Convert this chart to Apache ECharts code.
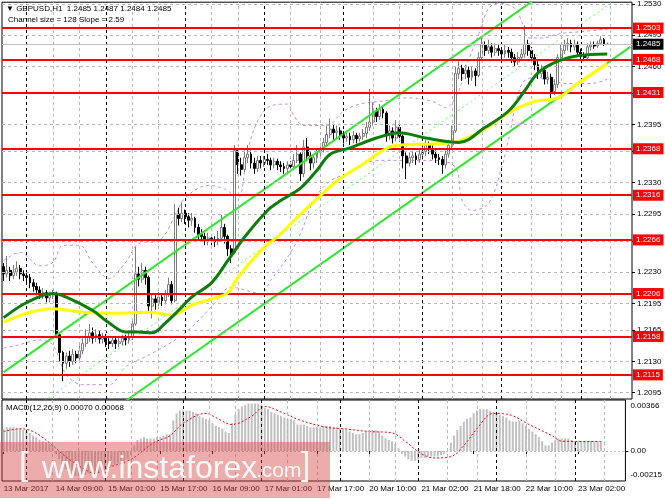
<!DOCTYPE html>
<html>
<head>
<meta charset="utf-8">
<script src="https://cdn.jsdelivr.net/npm/echarts@6/dist/echarts.min.js"></script>
<style>
html, body { margin: 0; padding: 0; background: #fff; }
#chart { width: 665px; height: 499px; }
</style>
</head>
<body>
<div id="chart"></div>
<script>
// GBPUSD H1 bars, prices in points above 1.0000 (2228 = 1.2228)
var firstOpenPt = 2236;
var closePts = [
  2228,2232,2226,2230,2234,2228,2226,2224,2218,2214,
  2210,2205,2207,2201,2204,2206,2160,2140,2128,2136,
  2130,2138,2134,2142,2150,2158,2162,2156,2160,2155,
  2158,2152,2150,2154,2150,2152,2156,2154,2158,2172,
  2228,2222,2232,2224,2192,2200,2196,2202,2198,2206,
  2216,2198,2295,2290,2296,2292,2288,2290,2280,2272,
  2270,2265,2268,2266,2264,2268,2280,2270,2256,2252,
  2366,2350,2345,2358,2362,2352,2346,2355,2352,2356,
  2355,2350,2354,2350,2348,2346,2350,2348,2355,2362,
  2340,2370,2360,2352,2358,2364,2368,2375,2384,2390,
  2386,2388,2384,2380,2382,2378,2383,2379,2382,2385,
  2392,2398,2410,2404,2412,2408,2384,2388,2380,2392,
  2382,2360,2352,2358,2360,2356,2362,2365,2372,2368,
  2362,2358,2356,2350,2362,2372,2388,2452,2458,2452,
  2456,2448,2455,2450,2470,2484,2478,2482,2476,2480,
  2478,2474,2478,2476,2470,2465,2470,2474,2485,2478,
  2470,2462,2452,2456,2446,2448,2432,2440,2470,2478,
  2484,2486,2482,2485,2476,2472,2470,2482,2484,2483,
  2486,2490,2485,2485
];
var highPts = [
  2240,2248,2236,2238,2242,2238,2232,2230,2228,2222,
  2218,2214,2212,2210,2208,2210,2208,2162,2142,2140,
  2142,2144,2142,2148,2156,2166,2172,2168,2166,2164,
  2162,2161,2156,2158,2157,2158,2160,2160,2162,2176,
  2258,2236,2240,2236,2226,2206,2204,2208,2206,2210,
  2224,2220,2306,2302,2308,2300,2296,2296,2292,2284,
  2278,2274,2274,2272,2270,2276,2294,2284,2272,2260,
  2372,2368,2358,2366,2372,2366,2358,2360,2360,2360,
  2362,2358,2358,2357,2354,2352,2354,2354,2362,2372,
  2364,2378,2380,2364,2362,2368,2374,2380,2394,2402,
  2396,2394,2392,2388,2388,2386,2388,2386,2386,2390,
  2398,2435,2420,2414,2418,2416,2410,2394,2392,2400,
  2396,2384,2364,2364,2366,2364,2368,2370,2378,2376,
  2372,2366,2362,2360,2366,2378,2394,2460,2466,2462,
  2462,2460,2460,2458,2476,2492,2488,2490,2486,2486,
  2484,2482,2484,2482,2480,2474,2476,2480,2506,2490,
  2482,2474,2466,2462,2460,2454,2452,2446,2474,2484,
  2490,2492,2490,2490,2488,2480,2476,2486,2488,2488,
  2489,2494,2492,2487
];
var lowPts = [
  2220,2224,2220,2222,2226,2222,2220,2218,2212,2208,
  2204,2200,2200,2196,2196,2200,2156,2130,2108,2122,
  2124,2126,2128,2130,2138,2146,2152,2150,2152,2150,
  2150,2146,2144,2146,2144,2146,2148,2148,2150,2154,
  2170,2214,2218,2216,2186,2178,2188,2192,2192,2194,
  2202,2194,2196,2282,2286,2284,2280,2282,2274,2266,
  2264,2260,2260,2260,2258,2260,2264,2262,2248,2240,
  2250,2340,2338,2342,2352,2346,2340,2342,2346,2348,
  2350,2344,2346,2344,2342,2340,2342,2343,2345,2352,
  2332,2336,2354,2344,2346,2352,2360,2364,2372,2380,
  2378,2380,2378,2374,2376,2372,2374,2374,2376,2378,
  2380,2388,2394,2398,2400,2402,2376,2378,2374,2376,
  2376,2346,2334,2348,2352,2350,2352,2356,2360,2362,
  2356,2352,2350,2340,2346,2358,2368,2386,2446,2444,
  2446,2440,2444,2438,2448,2466,2472,2474,2470,2472,
  2472,2468,2470,2470,2464,2460,2462,2466,2470,2472,
  2464,2456,2446,2448,2440,2440,2424,2428,2436,2466,
  2474,2478,2476,2478,2472,2468,2466,2468,2478,2480,
  2481,2484,2483,2484
];

var barCount = 191; // bars plus the empty space before the price scale

var tickBars = [0, 16, 32, 48, 64, 80, 96, 112, 128, 144, 160, 176];
var tickLabels = ['13 Mar 2017', '14 Mar 09:00', '15 Mar 01:00', '15 Mar 17:00',
  '16 Mar 09:00', '17 Mar 01:00', '17 Mar 17:00', '20 Mar 10:00',
  '21 Mar 02:00', '21 Mar 18:00', '22 Mar 10:00', '23 Mar 02:00'];

var priceTicks = [1.2530, 1.2495, 1.2460, 1.2430, 1.2395, 1.2365, 1.2330,
  1.2295, 1.2265, 1.2230, 1.2195, 1.2165, 1.2130, 1.2095];
var levels = [1.2503, 1.2468, 1.2431, 1.2368, 1.2316, 1.2266, 1.2206, 1.2158, 1.2115];
var bidPrice = 1.2485;

var gridBars = [15, 23, 39, 47, 63, 71, 87, 96, 112, 120, 136, 145, 160, 169, 184];
var daySepBars = [7, 31, 55, 79, 103, 127, 151, 175];

// moving averages and envelope read at sample bars
var maGreen = [[0,1.2179],[7,1.2196],[15,1.2206],[19,1.2202],[27,1.2187],[32,1.2173],
  [37,1.2163],[41,1.2163],[45,1.2162],[49,1.2173],[53,1.2187],[57,1.2202],[63,1.2218],
  [68,1.2243],[73,1.2269],[80,1.2299],[84,1.2310],[90,1.2324],[95,1.2344],[99,1.2362],
  [105,1.2369],[113,1.2380],[120,1.2386],[128,1.2380],[138,1.2375],[146,1.2392],
  [153,1.2410],[158,1.2433],[162,1.2453],[168,1.2466],[174,1.2472],[183,1.2474]];
var maYellow = [[0,1.2174],[7,1.2184],[15,1.2189],[24,1.2185],[34,1.2184],[44,1.2185],
  [51,1.2182],[57,1.2193],[64,1.2201],[68,1.2207],[71,1.2224],[78,1.2254],[84,1.2273],
  [90,1.2295],[95,1.2312],[101,1.2332],[109,1.2351],[118,1.2371],[126,1.2373],
  [136,1.2375],[145,1.2388],[153,1.2408],[161,1.2421],[168,1.2425],[174,1.2441],[183,1.2463]];
var bandUpper = [[0,1.2243],[5,1.2252],[11,1.2237],[15,1.2241],[18,1.2260],[23,1.2260],
  [27,1.2240],[32,1.2223],[37,1.2241],[41,1.2262],[47,1.2265],[52,1.2293],[55,1.2313],
  [62,1.2327],[67,1.2323],[71,1.2313],[74,1.2366],[77,1.2399],[81,1.2416],[86,1.2418],
  [88,1.2405],[91,1.2394],[98,1.2394],[103,1.2410],[108,1.2418],[114,1.2421],[123,1.2425],
  [130,1.2421],[134,1.2414],[138,1.2433],[140,1.2458],[144,1.2496],[147,1.2525],
  [150,1.2531],[155,1.2525],[157,1.2511],[159,1.2492],[163,1.2492],[169,1.2497],
  [175,1.2499],[183,1.2502]];
var bandLower = [[0,1.2145],[4,1.2148],[11,1.2154],[15,1.2148],[19,1.2115],[24,1.2104],
  [32,1.2104],[37,1.2124],[45,1.2139],[55,1.2162],[63,1.2191],[69,1.2213],[78,1.2206],
  [81,1.2221],[86,1.2246],[90,1.2273],[94,1.2310],[99,1.2332],[105,1.2341],[113,1.2355],
  [131,1.2355],[137,1.2347],[139,1.2310],[142,1.2299],[147,1.2307],[151,1.2347],
  [153,1.2377],[157,1.2440],[161,1.2448],[171,1.2441],[178,1.2441],[183,1.2446]];

// regression channel (size 128, slope 2.59)
var channelUpper = [[0, 1.2118], [190, 1.2610]];
var channelMid = [[0, 1.2054], [190, 1.2546]];
var channelLower = [[0, 1.1990], [190, 1.2482]];

// MACD(12,26,9)
var macdHist = [
  0.0016,0.0017,0.0017,0.0017,0.0016,0.0016,0.0015,0.0014,0.0013,0.0011,
  0.0010,0.0008,0.0007,0.0006,0.0005,0.0004,-0.0002,-0.0006,-0.0010,-0.0013,
  -0.0016,-0.0018,-0.0018,-0.0018,-0.0018,-0.0017,-0.0016,-0.0016,-0.0015,-0.0015,
  -0.0014,-0.0013,-0.0012,-0.0011,-0.0010,-0.0009,-0.0008,-0.0007,-0.0006,-0.0003,
  0.0004,0.0008,0.0009,0.0010,0.0009,0.0009,0.0009,0.0010,0.0010,0.0011,
  0.0012,0.0012,0.0022,0.0027,0.0029,0.0029,0.0029,0.0029,0.0028,0.0027,
  0.0025,0.0024,0.0023,0.0022,0.0020,0.0018,0.0017,0.0016,0.0014,0.0013,
  0.0020,0.0026,0.0030,0.0032,0.0033,0.0034,0.0034,0.0034,0.0034,0.0033,
  0.0031,0.0030,0.0028,0.0027,0.0026,0.0025,0.0024,0.0023,0.0023,0.0022,
  0.0019,0.0019,0.0019,0.0018,0.0017,0.0017,0.0017,0.0017,0.0018,0.0018,
  0.0018,0.0017,0.0017,0.0016,0.0016,0.0015,0.0014,0.0013,0.0012,0.0012,
  0.0013,0.0014,0.0015,0.0015,0.0015,0.0014,0.0011,0.0009,0.0008,0.0007,
  0.0005,0.0002,-0.0002,-0.0004,-0.0006,-0.0007,-0.0007,-0.0006,-0.0005,-0.0005,
  -0.0004,-0.0004,-0.0004,-0.0004,-0.0003,-0.0002,0.0000,0.0006,0.0011,0.0015,
  0.0018,0.0021,0.0023,0.0024,0.0027,0.0029,0.0030,0.0030,0.0030,0.0029,
  0.0028,0.0027,0.0026,0.0025,0.0024,0.0022,0.0021,0.0021,0.0022,0.0020,
  0.0018,0.0016,0.0014,0.0012,0.0010,0.0007,0.0004,0.0004,0.0006,0.0008,
  0.0009,0.0009,0.0009,0.0009,0.0008,0.0007,0.0007,0.0007,0.0007,0.0007,
  0.0007,0.0007,0.0007,0.0007
];
var macdSignal = [[0,0.0014],[5,0.0016],[9,0.0014],[14,0.0006],[19,-0.0004],[24,-0.0012],
  [28,-0.0016],[32,-0.0012],[39,-0.0006],[46,0.0006],[51,0.0011],[55,0.0020],[62,0.0027],
  [65,0.0024],[70,0.0019],[76,0.0025],[80,0.0032],[85,0.0028],[91,0.0022],[99,0.0017],
  [104,0.0016],[112,0.0014],[119,0.0013],[123,0.0007],[128,-0.0002],[132,-0.0005],
  [137,-0.0004],[141,0.0004],[145,0.0016],[150,0.0027],[155,0.0026],[161,0.0019],
  [168,0.0011],[171,0.0007],[183,0.00068]];
var macdTicks = [0.00366, 0, -0.00215];

var FONT = '"Liberation Sans", "DejaVu Sans", sans-serif';
var FS = 8;

function pt(v) { return 1 + v / 10000; }

var cats = [];
for (var i = 0; i < barCount; i++) cats.push(String(i));

// open = previous close
var candles = closePts.map(function (c, i) {
  var o = i === 0 ? firstOpenPt : closePts[i - 1];
  return [pt(o), pt(c), pt(lowPts[i]), pt(highPts[i])];
});

var dash = { color: '#b9b9b9', type: [3, 3], width: 1 };
var sepDash = { color: '#000', type: [3, 3], width: 1 };

function vLines() {
  return gridBars.map(function (b) { return { xAxis: String(b), lineStyle: dash }; })
    .concat(daySepBars.map(function (b) { return { xAxis: String(b), lineStyle: sepDash }; }));
}

var gridMarks = vLines().concat(priceTicks.map(function (v) {
  return { yAxis: v, lineStyle: dash };
}));

function boxLabel(v, bg) {
  return { show: true, position: 'end', distance: 1, formatter: v.toFixed(4),
    backgroundColor: bg, color: '#fff', padding: [2, 3, 1, 3], fontSize: FS, fontFamily: FONT };
}

var levelMarks = levels.map(function (v) {
  return { yAxis: v, lineStyle: { color: '#ff0000', width: 2, type: 'solid' }, label: boxLabel(v, '#ff0000') };
});
levelMarks.push({
  yAxis: bidPrice, lineStyle: { color: '#c0c0c0', width: 1, type: 'solid' }, label: boxLabel(bidPrice, '#000')
});

function lineSeries(data, color, width, type, z) {
  return {
    type: 'line', xAxisIndex: 0, yAxisIndex: 0, data: data, symbol: 'none',
    smooth: 0.35, z: z || 3, silent: true,
    lineStyle: { color: color, width: width, type: type || 'solid' }
  };
}

var chart = echarts.init(document.getElementById('chart'));
chart.setOption({
  animation: false,
  backgroundColor: '#fff',
  textStyle: { fontFamily: FONT },
  grid: [
    { left: 2, right: 33, top: 1, height: 398, show: true, borderColor: '#000', borderWidth: 1, backgroundColor: '#fff' },
    { left: 2, right: 33, top: 400, height: 81, show: true, borderColor: '#000', borderWidth: 1, backgroundColor: '#fff' }
  ],
  xAxis: [
    { type: 'category', gridIndex: 0, data: cats, boundaryGap: true,
      axisLine: { show: false }, axisTick: { show: false }, axisLabel: { show: false }, splitLine: { show: false } },
    { type: 'category', gridIndex: 1, data: cats, boundaryGap: true,
      axisLine: { show: false },
      axisTick: { show: true, alignWithLabel: true, length: 3, lineStyle: { color: '#000' },
        interval: function (idx) { return tickBars.indexOf(idx) >= 0; } },
      axisLabel: { show: true, align: 'left', margin: 4, fontSize: FS, color: '#000',
        interval: function (idx) { return tickBars.indexOf(idx) >= 0; },
        formatter: function (v, idx) { return tickLabels[tickBars.indexOf(idx)] || ''; } },
      splitLine: { show: false } }
  ],
  yAxis: [
    { type: 'value', gridIndex: 0, position: 'right', min: 1.2088, max: 1.2532,
      splitLine: { show: false }, axisLine: { show: false },
      axisTick: { show: true, length: 3, customValues: priceTicks, lineStyle: { color: '#000' } },
      axisLabel: { show: true, customValues: priceTicks, margin: 5, fontSize: FS, color: '#000',
        formatter: function (v) { return v.toFixed(4); } } },
    { type: 'value', gridIndex: 1, position: 'right', min: -0.00215, max: 0.00366,
      splitLine: { show: false }, axisLine: { show: false },
      axisTick: { show: true, length: 3, customValues: [0], lineStyle: { color: '#000' } },
      axisLabel: { show: true, customValues: macdTicks, margin: 5, fontSize: FS, color: '#000',
        formatter: function (v) {
          if (v > 0) return '{t|' + macdTicks[0].toFixed(5) + '}';
          if (v < 0) return '{b|' + macdTicks[2].toFixed(5) + '}';
          return '0.00';
        },
        rich: {
          t: { fontSize: FS, color: '#000', fontFamily: FONT, padding: [12, 0, 0, 0] },
          b: { fontSize: FS, color: '#000', fontFamily: FONT, padding: [0, 0, 12, 0] }
        } } }
  ],
  series: [
    { type: 'line', xAxisIndex: 0, yAxisIndex: 0, data: [], z: 1, silent: true,
      markLine: { silent: true, precision: 6, symbol: ['none', 'none'], label: { show: false }, data: gridMarks } },
    lineSeries(bandUpper, '#c58be8', 1, [3, 3], 2),
    lineSeries(bandLower, '#c58be8', 1, [3, 3], 2),
    { type: 'candlestick', xAxisIndex: 0, yAxisIndex: 0, data: candles, barWidth: 2.4, z: 3, silent: true,
      itemStyle: { color: '#ffffff', color0: '#000000', borderColor: '#7d7d7d', borderColor0: '#000000', borderWidth: 1 } },
    lineSeries(channelMid, '#66ff66', 1, [2, 3], 4),
    lineSeries(channelUpper, '#2ee82e', 2, 'solid', 4),
    lineSeries(channelLower, '#2ee82e', 2, 'solid', 4),
    lineSeries(maYellow, '#ffff00', 3, 'solid', 5),
    lineSeries(maGreen, '#0b7d0b', 3, 'solid', 6),
    { type: 'line', xAxisIndex: 0, yAxisIndex: 0, data: [], z: 7, silent: true,
      markLine: { silent: true, precision: 6, symbol: ['none', 'none'], data: levelMarks } },
    { type: 'bar', xAxisIndex: 1, yAxisIndex: 1, data: macdHist, barWidth: 2, z: 3, silent: true,
      itemStyle: { color: '#c0c0c0' },
      markLine: { silent: true, precision: 6, symbol: ['none', 'none'], label: { show: false },
        data: vLines().concat([{ yAxis: 0, lineStyle: { color: '#c0c0c0', type: [2, 2], width: 1 } }]) } },
    { type: 'line', xAxisIndex: 1, yAxisIndex: 1, data: macdSignal, symbol: 'none', smooth: 0.35, z: 4, silent: true,
      lineStyle: { color: '#ff0000', width: 1, type: [2, 2] } }
  ],
  graphic: [
    { type: 'text', x: 6, y: 9, z: 50,
      style: { text: '\u25BC GBPUSD,H1  1.2485 1.2487 1.2484 1.2485', font: FS + 'px ' + FONT, fill: '#000', verticalAlign: 'middle' } },
    { type: 'text', x: 8, y: 20, z: 50,
      style: { text: 'Channel size = 128 Slope = 2.59', font: FS + 'px ' + FONT, fill: '#000', verticalAlign: 'middle' } },
    { type: 'text', x: 6, y: 408, z: 50,
      style: { text: 'MACD(12,26,9) 0.00070 0.00068', font: FS + 'px ' + FONT, fill: '#000', verticalAlign: 'middle' } },
    { type: 'rect', z: 100, shape: { x: 0, y: 442, width: 330, height: 56 },
      style: { fill: 'rgba(214,72,72,0.45)' } },
    { type: 'text', x: 19, y: 483, z: 101,
      style: { text: '[', font: '34px ' + FONT, fill: 'rgba(255,255,255,0.92)', verticalAlign: 'bottom' } },
    { type: 'text', x: 42, y: 485, z: 101,
      style: { text: 'www.instaforex', font: '32px ' + FONT, fill: 'rgba(255,255,255,0.92)', verticalAlign: 'bottom' } },
    { type: 'text', x: 256, y: 482, z: 101,
      style: { text: '.com', font: '21px ' + FONT, fill: 'rgba(255,255,255,0.92)', verticalAlign: 'bottom' } },
    { type: 'text', x: 301, y: 483, z: 101,
      style: { text: ']', font: '34px ' + FONT, fill: 'rgba(255,255,255,0.92)', verticalAlign: 'bottom' } }
  ]
});
</script>
</body>
</html>
